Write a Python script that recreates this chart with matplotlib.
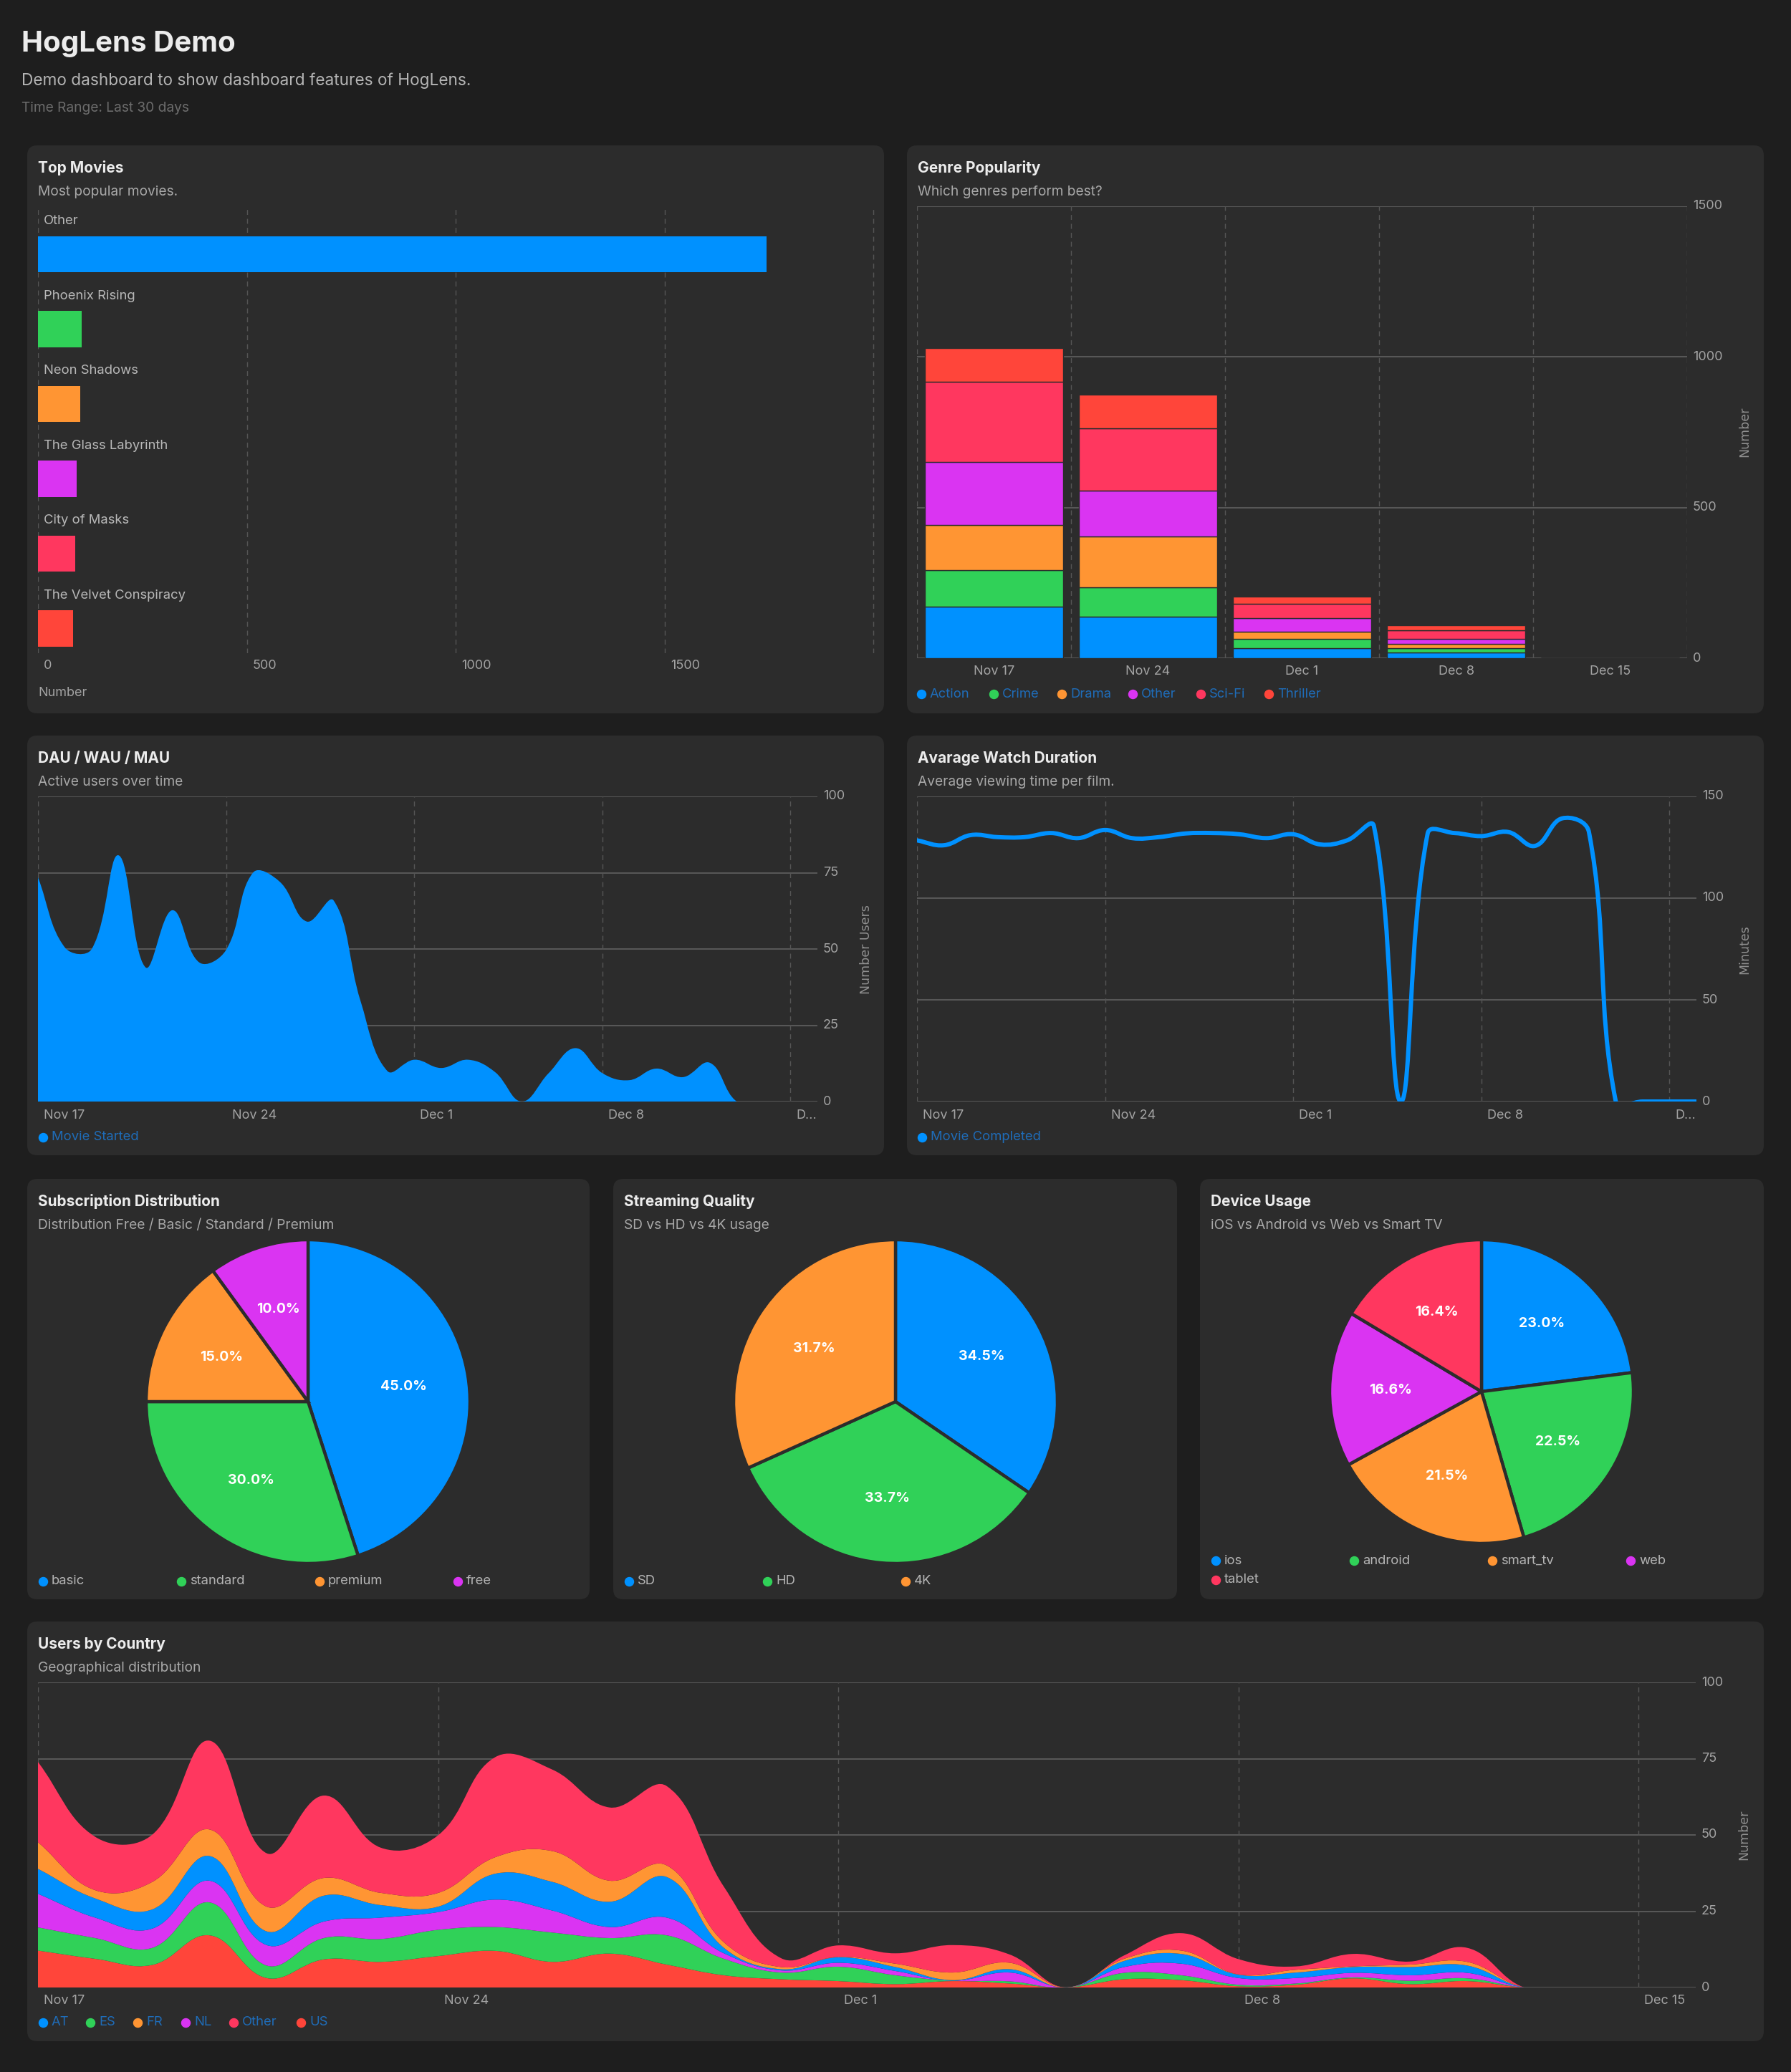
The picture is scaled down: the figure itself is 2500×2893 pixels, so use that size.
import numpy as np
import pandas as pd
import matplotlib
matplotlib.use('Agg')
import matplotlib.pyplot as plt
import matplotlib.dates as mdates
from matplotlib.patches import FancyBboxPatch, PathPatch
from matplotlib.path import Path

# ---------------- data ----------------
movies = ['Other', 'Phoenix Rising', 'Neon Shadows', 'The Glass Labyrinth',
          'City of Masks', 'The Velvet Conspiracy']
movie_counts = [1744, 104, 101, 93, 90, 84]

weeks = ['Nov 17', 'Nov 24', 'Dec 1', 'Dec 8', 'Dec 15']
genres = ['Action', 'Crime', 'Drama', 'Other', 'Sci-Fi', 'Thriller']
genre_action = [172, 137, 33, 18, 0]
genre_crime = [121, 99, 30, 15, 0]
genre_drama = [149, 169, 25, 15, 0]
genre_other = [210, 151, 45, 17, 0]
genre_scifi = [266, 207, 48, 28, 0]
genre_thriller = [111, 112, 24, 16, 0]

days = pd.date_range('2024-11-17', '2024-12-16', freq='D')
week_starts = pd.to_datetime(['2024-11-17', '2024-11-24', '2024-12-01', '2024-12-08', '2024-12-15'])

movie_started = [73.5, 50.5, 50, 80.7, 44, 62.7, 45.6, 49.7, 75, 72, 59, 65.9, 33, 10, 13.7,
                 11, 13.7, 9.7, 0, 9.3, 17.5, 9.3, 7, 10.8, 8, 12.7, 0, 0, 0, 0]

watch_minutes = [128.4, 126, 131, 130, 130, 132, 129.5, 133.5, 129.5, 130, 131.8, 132, 131.4, 129.5,
                 131.4, 126.4, 128.4, 135.4, 0, 131.8, 132, 130.5, 132.5, 125.7, 139.2, 132.5,
                 0, 0, 0, 0]

countries = ['AT', 'ES', 'FR', 'NL', 'Other', 'US']
users_us = [12.1, 9.4, 7.4, 17.1, 3.1, 9.2, 8.4, 10.3, 12.0, 8.4, 11.1, 7.5, 4.0, 2.7, 2.1,
            1.1, 2.1, 1.3, 0, 2.7, 2.4, 0.4, 0.9, 3.0, 1.1, 2.1, 0, 0, 0, 0]
users_es = [7.6, 6.8, 5.6, 10.8, 4.1, 7.0, 7.5, 8.6, 7.8, 9.6, 5.1, 9.6, 5.4, 2.2, 4.7,
            2.9, 0.1, 0.7, 0, 2.1, 1.6, 0.5, 0.4, 0.3, 1.1, 0.9, 0, 0, 0, 0]
users_nl = [11.0, 6.7, 6.3, 7.1, 6.7, 5.4, 7.0, 5.8, 9.0, 7.2, 3.6, 5.8, 1.8, 0.7, 1.3,
            1.4, 0.0, 2.9, 0, 1.9, 3.8, 2.2, 1.8, 1.5, 1.8, 1.8, 0, 0, 0, 0]
users_at = [8.2, 6.3, 6.3, 8.1, 4.5, 8.5, 4.1, 1.8, 8.5, 9.4, 8.3, 13.3, 1.8, 0.4, 1.8,
            1.3, 0.2, 1.1, 0, 2.0, 3.2, 1.1, 1.8, 1.9, 2.7, 2.4, 0, 0, 0, 0]
users_fr = [8.7, 2.7, 9.0, 8.7, 8.1, 5.8, 4.0, 4.5, 5.4, 10.1, 6.9, 3.8, 1.8, 0.7, 0.1,
            1.1, 2.5, 2.1, 0, 0.7, 1.1, 0.1, 0.9, 0.2, 0.8, 1.2, 0, 0, 0, 0]
users_other = [26.3, 17.5, 15.5, 29.1, 17.5, 27.0, 14.8, 18.9, 32.8, 26.7, 24.0, 26.0, 18.2, 2.9, 3.8,
               3.4, 9.0, 2.7, 0, 1.1, 5.7, 5.0, 1.1, 4.1, 1.0, 4.6, 0, 0, 0, 0]

plans = ['basic', 'standard', 'premium', 'free']
plan_share = [45.0, 30.0, 15.0, 10.0]
qualities = ['SD', 'HD', '4K']
quality_share = [34.5, 33.7, 31.7]
devices = ['ios', 'android', 'smart_tv', 'web', 'tablet']
device_share = [23.0, 22.5, 21.5, 16.6, 16.4]

# ---------------- style ----------------
W, H = 2500, 2893
BG = '#1e1e1e'
PANEL = '#2c2c2c'
TITLE = '#ececec'
SUB = '#a8a8a8'
TICK = '#a3a3a3'
HGRID = '#575757'
VGRID = '#555555'
LEG_BLUE = '#1f6cb8'
BLUE, GREEN, ORANGE, MAGENTA, PINK, RED = '#0091ff', '#30d158', '#ff9533', '#da34f2', '#ff375f', '#ff453a'
PX = 0.72  # points per pixel at dpi 100
TICK_SIZE = 13

plt.rcParams['font.family'] = ['Inter', 'DejaVu Sans']

fig = plt.figure(figsize=(W / 100, H / 100), dpi=100, facecolor=BG)
canvas = fig.add_axes([0, 0, 1, 1])
canvas.set_xlim(0, W)
canvas.set_ylim(H, 0)
canvas.axis('off')


def add_panel(x0, y0, x1, y1, title, subtitle):
    r = 14
    canvas.add_patch(FancyBboxPatch((x0 + r, y0 + r), x1 - x0 - 2 * r, y1 - y0 - 2 * r,
                                    boxstyle=f'round,pad={r}', fc=PANEL, ec='none'))
    canvas.text(x0 + 15, y0 + 38, title, fontsize=15, fontweight='bold', color=TITLE, va='baseline')
    canvas.text(x0 + 15, y0 + 70, subtitle, fontsize=13.8, color=SUB, va='baseline')


def px_axes(x0, y0, x1, y1):
    ax = fig.add_axes([x0 / W, 1 - y1 / H, (x1 - x0) / W, (y1 - y0) / H])
    ax.set_facecolor('none')
    for s in ax.spines.values():
        s.set_visible(False)
    ax.set_xticks([])
    ax.set_yticks([])
    return ax


def legend_row(xs, y, labels, colors, text_color, size=13.3):
    for x, lab, col in zip(xs, labels, colors):
        canvas.scatter([x], [y], s=75, color=col, zorder=5)
        canvas.text(x + 12, y, lab, fontsize=size, color=text_color, va='center', ha='left')


def side_label(x, y, text):
    canvas.text(x, y, text, rotation=90, fontsize=12.5, color='#8f8f8f', ha='center', va='center',
                family='DejaVu Sans')


# chart.js style bezier (tension 0.4, computed in screen space)
def spline_verts(ax, x, y, tension=0.4):
    pts = ax.transData.transform(np.column_stack([x, y]))
    n = len(pts)
    before, after = [], []
    for i in range(n):
        p0 = pts[max(i - 1, 0)]
        p1 = pts[i]
        p2 = pts[min(i + 1, n - 1)]
        d01 = np.hypot(*(p1 - p0))
        d12 = np.hypot(*(p2 - p1))
        tot = d01 + d12
        fa = tension * d01 / tot if tot else 0
        fb = tension * d12 / tot if tot else 0
        before.append(p1 - fa * (p2 - p0))
        after.append(p1 + fb * (p2 - p0))
    verts = [pts[0]]
    for i in range(n - 1):
        verts += [after[i], before[i + 1], pts[i + 1]]
    return ax.transData.inverted().transform(np.array(verts))


def curve_line(ax, x, y, **kw):
    v = spline_verts(ax, x, y)
    codes = [Path.MOVETO] + [Path.CURVE4] * (len(v) - 1)
    ax.add_patch(PathPatch(Path(v, codes), fill=False, **kw))


def curve_band(ax, x, lower, upper, color):
    top = spline_verts(ax, x, upper)
    bot = spline_verts(ax, x, lower)[::-1]
    v = np.vstack([top, bot, top[:1]])
    codes = ([Path.MOVETO] + [Path.CURVE4] * (len(top) - 1) + [Path.LINETO]
             + [Path.CURVE4] * (len(bot) - 1) + [Path.CLOSEPOLY])
    ax.add_patch(PathPatch(Path(v, codes), fc=color, ec='none', lw=0))


x_days = mdates.date2num(days)
x_weeks = mdates.date2num(week_starts)


def time_axes(box, ymax, yticks, tick_labels):
    ax = px_axes(*box)
    ax.set_xlim(x_days[0], x_days[-1])
    ax.set_ylim(0, ymax)
    for yv in yticks:
        ax.axhline(yv, color=HGRID, lw=1.5, zorder=0)
        ax.annotate(str(yv), xy=(1, yv), xycoords=('axes fraction', 'data'), xytext=(8 * PX, 0),
                    textcoords='offset points', ha='left', va='center', fontsize=TICK_SIZE, color=TICK)
    for t, lab in zip(x_weeks, tick_labels):
        ax.axvline(t, color=VGRID, lw=1, dashes=(5, 4), zorder=0)
        ax.annotate(lab, xy=(t, 0), xycoords=('data', 'axes fraction'), xytext=(8 * PX, -19 * PX),
                    textcoords='offset points', ha='left', va='center', fontsize=TICK_SIZE, color=TICK)
    return ax


# ---------------- header ----------------
canvas.text(30, 72, 'HogLens Demo', fontsize=29, fontweight='bold', color=TITLE, va='baseline')
canvas.text(30, 119, 'Demo dashboard to show dashboard features of HogLens.', fontsize=16.3, color='#b4b4b4',
            va='baseline')
canvas.text(30, 156, 'Time Range: Last 30 days', fontsize=13.8, color='#6c6c6c', va='baseline')

# ---------------- Top Movies ----------------
add_panel(38, 203, 1234, 996, 'Top Movies', 'Most popular movies.')
ax = px_axes(53, 288, 1221, 912)
movie_colors = [BLUE, GREEN, ORANGE, MAGENTA, PINK, RED]
ax.barh(range(len(movies)), movie_counts, height=0.48, color=movie_colors, zorder=2)
ax.set_xlim(0, 2003)
ax.set_ylim(5.33, -0.64)
for v in [0, 500, 1000, 1500, 2000]:
    ax.axvline(v, color=VGRID, lw=1, dashes=(5, 4), zorder=0)
for v in [0, 500, 1000, 1500]:
    ax.annotate(str(v), xy=(v, 0), xycoords=('data', 'axes fraction'), xytext=(8 * PX, -18 * PX),
                textcoords='offset points', ha='left', va='center', fontsize=TICK_SIZE, color=TICK)
for i, name in enumerate(movies):
    ax.annotate(name, xy=(0, i - 0.40), xytext=(8 * PX, 0), textcoords='offset points',
                ha='left', va='baseline', fontsize=13.3, color='#b8b8b8')
canvas.text(53, 968, 'Number', fontsize=TICK_SIZE, color=TICK, va='center')

# ---------------- Genre Popularity ----------------
add_panel(1266, 203, 2462, 996, 'Genre Popularity', 'Which genres perform best?')
ax = px_axes(1280, 288, 2355, 919)
ax.set_xlim(-0.5, 4.5)
ax.set_ylim(0, 1500)
bottom = np.zeros(len(weeks))
genre_colors = [BLUE, GREEN, ORANGE, MAGENTA, PINK, RED]
for vals, col in zip([genre_action, genre_crime, genre_drama, genre_other, genre_scifi, genre_thriller],
                     genre_colors):
    ax.bar(range(len(weeks)), vals, width=0.9, bottom=bottom, color=col, edgecolor=PANEL, linewidth=1.0,
           zorder=2)
    bottom += np.array(vals)
for v in [0, 500, 1000, 1500]:
    ax.axhline(v, color=HGRID, lw=1.5, zorder=0)
    ax.annotate(str(v), xy=(1, v), xycoords=('axes fraction', 'data'), xytext=(8 * PX, 0),
                textcoords='offset points', ha='left', va='center', fontsize=TICK_SIZE, color=TICK)
for b in np.arange(-0.5, 5, 1):
    ax.axvline(b, color=VGRID, lw=1, dashes=(5, 4), zorder=0)
for i, w in enumerate(weeks):
    ax.annotate(w, xy=(i, 0), xycoords=('data', 'axes fraction'), xytext=(0, -19 * PX),
                textcoords='offset points', ha='center', va='center', fontsize=TICK_SIZE, color=TICK)
side_label(2435, 603, 'Number')
legend_row([1286, 1387, 1482, 1581, 1676, 1771], 969, genres, genre_colors, LEG_BLUE)

# ---------------- DAU / WAU / MAU ----------------
add_panel(38, 1027, 1234, 1613, 'DAU / WAU / MAU', 'Active users over time')
ax = time_axes((53, 1112, 1141, 1538), 100, [0, 25, 50, 75, 100], ['Nov 17', 'Nov 24', 'Dec 1', 'Dec 8', 'D…'])
curve_band(ax, x_days, np.zeros(len(x_days)), movie_started, BLUE)
side_label(1209, 1326, 'Number Users')
legend_row([60], 1588, ['Movie Started'], [BLUE], LEG_BLUE)

# ---------------- Avarage Watch Duration ----------------
add_panel(1266, 1027, 2462, 1613, 'Avarage Watch Duration', 'Average viewing time per film.')
ax = time_axes((1280, 1112, 2368, 1538), 150, [0, 50, 100, 150], ['Nov 17', 'Nov 24', 'Dec 1', 'Dec 8', 'D…'])
curve_line(ax, x_days, watch_minutes, ec=BLUE, lw=4.3, capstyle='round', joinstyle='round', zorder=3)
side_label(2435, 1326, 'Minutes')
legend_row([1287], 1588, ['Movie Completed'], [BLUE], LEG_BLUE)


# ---------------- Pies ----------------
def pie_panel(box, title, subtitle, center, r, values, labels, colors, legend_rows):
    add_panel(*box, title, subtitle)
    cx, cy = center
    ax = px_axes(cx - r, cy - r, cx + r, cy + r)
    ax.pie(values, colors=colors, startangle=90, counterclock=False, autopct='%1.1f%%', pctdistance=0.6,
           wedgeprops=dict(edgecolor=PANEL, linewidth=3.2),
           textprops=dict(color='white', fontsize=14, fontweight='bold'))
    ax.set_xlim(-1, 1)
    ax.set_ylim(-1, 1)
    k = 0
    for y, n in legend_rows:
        xs = [box[0] + 22 + 193 * j for j in range(n)]
        legend_row(xs, y, labels[k:k + n], colors[k:k + n], '#b4b4b4')
        k += n


pie_panel((38, 1646, 823, 2233), 'Subscription Distribution', 'Distribution Free / Basic / Standard / Premium',
          (430, 1957), 226, plan_share, plans, [BLUE, GREEN, ORANGE, MAGENTA], [(2208, 4)])
pie_panel((856, 1646, 1643, 2233), 'Streaming Quality', 'SD vs HD vs 4K usage',
          (1250, 1957), 226, quality_share, qualities, [BLUE, GREEN, ORANGE], [(2208, 3)])
pie_panel((1675, 1646, 2462, 2233), 'Device Usage', 'iOS vs Android vs Web vs Smart TV',
          (2068, 1943), 212, device_share, devices, [BLUE, GREEN, ORANGE, MAGENTA, PINK],
          [(2179, 4), (2206, 1)])

# ---------------- Users by Country ----------------
add_panel(38, 2264, 2462, 2850, 'Users by Country', 'Geographical distribution')
ax = time_axes((53, 2349, 2367, 2775), 100, [0, 25, 50, 75, 100], weeks)
stack = [(users_us, RED), (users_es, GREEN), (users_nl, MAGENTA), (users_at, BLUE),
         (users_fr, ORANGE), (users_other, PINK)]
lower = np.zeros(len(x_days))
for vals, col in stack:
    upper = lower + np.array(vals)
    curve_band(ax, x_days, lower, upper, col)
    lower = upper
side_label(2434, 2562, 'Number')
legend_row([60, 126, 192, 259, 326, 420], 2824, countries, [BLUE, GREEN, ORANGE, MAGENTA, PINK, RED], LEG_BLUE)

fig.savefig('out.png', dpi=100, facecolor=BG)
